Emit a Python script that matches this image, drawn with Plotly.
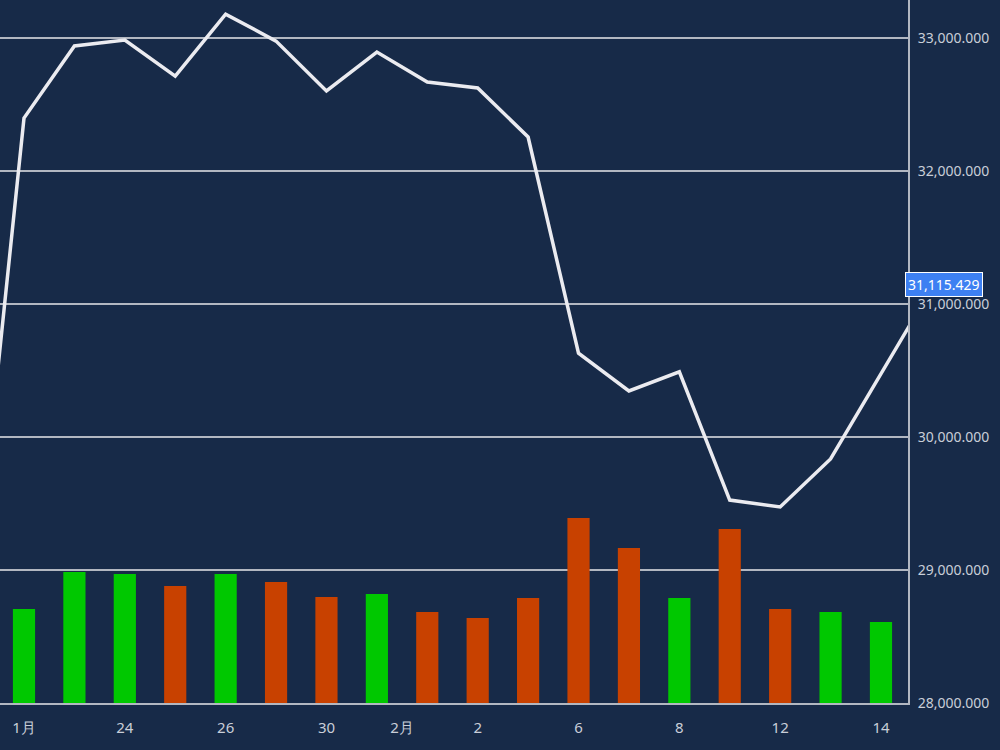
import plotly.graph_objects as go

# price line (close), x = trading-day index
line_x = [-1, 0, 1, 2, 3, 4, 5, 6, 7, 8, 9, 10, 11, 12, 13, 14, 15, 16, 18]
line_close = [28760, 32398, 32940, 32985, 32714, 33180, 32977, 32602, 32895, 32669,
              32624, 32256, 30630, 30346, 30490, 29526, 29474, 29835, 31115.429]
last_close = 31115.429

# volume bars
bar_x = list(range(18))
volume = [94, 131, 129, 117, 129, 121, 106, 109, 91, 85, 105, 185, 155, 105, 174, 94, 91, 81]
rising = [True, True, True, False, True, False, False, True, False, False,
          False, False, False, True, False, False, True, True]

tick_pos = [0, 2, 4, 6, 7.5, 9, 11, 13, 15, 17]
tick_text = ['1月', '24', '26', '30', '2月', '2', '6', '8', '12', '14']

BG = '#172a48'
GREEN = '#00c800'
RED = '#c84100'
GRID = '#b2b7c1'
TXT = '#c9ced8'

fig = go.Figure()
fig.add_trace(go.Bar(x=bar_x, y=volume,
                     marker=dict(color=[GREEN if r else RED for r in rising], line=dict(width=0)),
                     width=0.44,
                     yaxis='y2',
                     hoverinfo='skip'
                     )
              )
fig.add_trace(go.Scatter(x=line_x, y=line_close,
                         mode='lines',
                         line=dict(color='#ebebf0', width=3.5),
                         )
              )

fig.update_layout(width=1000, height=750,
                  paper_bgcolor=BG, plot_bgcolor=BG,
                  margin=dict(l=0, r=92, t=0, b=47, autoexpand=False),
                  showlegend=False,
                  font=dict(family='Noto Sans', color=TXT, size=14),
                  xaxis=dict(range=[-0.476, 17.536],
                             tickvals=tick_pos, ticktext=tick_text,
                             showgrid=False, zeroline=False,
                             showline=True, linecolor=GRID, linewidth=2,
                             ticks='', ticklabelstandoff=10,
                             tickfont=dict(color=TXT, size=15)
                             ),
                  yaxis=dict(side='right', range=[28000, 33286],
                             tickvals=[28000, 29000, 30000, 31000, 32000, 33000],
                             tickformat=',.3f',
                             showgrid=True, gridcolor=GRID, gridwidth=1.5,
                             zeroline=False,
                             showline=True, linecolor=GRID, linewidth=2,
                             ticks='', ticklabelstandoff=5,
                             tickfont=dict(color=TXT, size=14)
                             ),
                  yaxis2=dict(overlaying='y', range=[0, 703], visible=False),
                  )

fig.add_annotation(x=1, xref='paper', y=last_close, yref='y',
                   text=f'{last_close:,.3f}', showarrow=False,
                   xanchor='left', xshift=-3, yshift=4,
                   font=dict(color='#ffffff', size=14, family='Noto Sans'),
                   bgcolor='#3d80f2', bordercolor='#ffffff', borderwidth=1, borderpad=2)

fig.write_html("out.html",
               config={'displayModeBar': False},
               post_script="document.body.style.margin='0';document.body.style.overflow='hidden';")
